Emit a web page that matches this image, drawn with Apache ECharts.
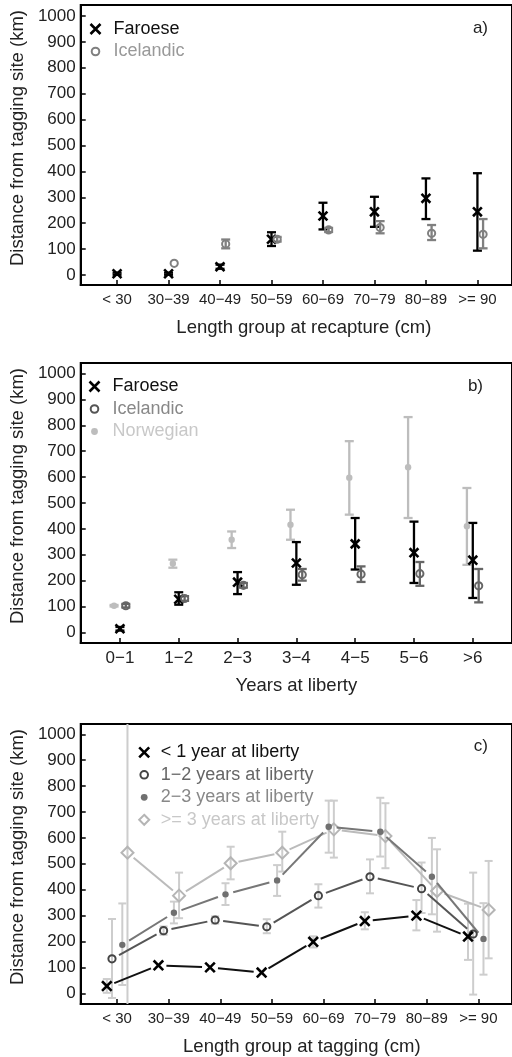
<!DOCTYPE html>
<html>
<head>
<meta charset="utf-8">
<script src="https://cdn.jsdelivr.net/npm/echarts@6/dist/echarts.min.js"></script>
<style>
  html, body { margin: 0; padding: 0; background: #fff; }
  #main { width: 512px; height: 1057px; }
</style>
</head>
<body>
<div id="main"></div>
<script>
const FONT = '"Liberation Sans", Arial, sans-serif';

// categories
const lengthGroups = ['< 30', '30\u221239', '40\u221249', '50\u221259', '60\u221269', '70\u221279', '80\u221289', '>= 90'];
const yearGroups = ['0\u22121', '1\u22122', '2\u22123', '3\u22124', '4\u22125', '5\u22126', '>6'];
const yTicks = [0, 100, 200, 300, 400, 500, 600, 700, 800, 900, 1000];

// a) length group at recapture
const faroeseRecap = [5, 5, 32, 138, 228, 244, 296, 244];
const faroeseRecapLo = [1, 1, 24, 112, 176, 186, 216, 94];
const faroeseRecapHi = [9, 9, 40, 165, 279, 302, 373, 393];
const icelandicRecap = [null, 45, 120, 138, 174, 183, 161, 157];
const icelandicRecapLo = [null, null, 103, 129, 166, 161, 135, 103];
const icelandicRecapHi = [null, null, 137, 147, 182, 208, 193, 216];

// b) years at liberty
const faroeseYears = [14, 128, 194, 268, 342, 308, 279];
const faroeseYearsLo = [7, 107, 148, 184, 243, 191, 133];
const faroeseYearsHi = [21, 155, 233, 349, 442, 428, 423];
const icelandicYears = [103, 131, 182, 223, 225, 227, 180];
const icelandicYearsLo = [96, 122, 173, 200, 195, 180, 116];
const icelandicYearsHi = [110, 140, 191, 245, 255, 272, 245];
const norwegianYears = [103, 266, 358, 416, 598, 638, 410];
const norwegianYearsLo = [100, 250, 326, 358, 455, 442, 261];
const norwegianYearsHi = [106, 281, 390, 474, 739, 832, 558];

// c) length group at tagging
const lt1Year = [28, 108, 100, 80, 199, 279, 300, 219];
const lt1YearLo = [2, null, null, null, 177, 247, 243, 129];
const lt1YearHi = [55, null, null, null, 220, 313, 360, 346];
const y1to2 = [133, 242, 283, 257, 377, 450, 404, 229];
const y1to2Lo = [-18, 226, 269, 232, 331, 386, 310, -5];
const y1to2Hi = [287, 258, 297, 286, 421, 517, 505, 466];
const y2to3 = [187, 311, 382, 436, 643, 624, 450, 210];
const y2to3Lo = [32, 270, 341, 376, 543, 528, 305, 72];
const y2to3Hi = [347, 354, 425, 495, 744, 755, 600, 348];
const ge3Years = [543, 377, 502, 543, 633, 607, 395, 322];
const ge3YearsLo = [-60, 290, 440, 470, 524, 483, 238, 135];
const ge3YearsHi = [1100, 466, 566, 624, 744, 734, 556, 511];

// legend icons (10x10 box)
const CROSS = 'path://M0.5,0.5L9.5,9.5M0.5,9.5L9.5,0.5';
const RING = 'path://M0,0M10,10M8.8,5A3.8,3.8,0,1,1,1.2,5A3.8,3.8,0,1,1,8.8,5Z';
const DOT = 'path://M0,0M10,10M8.4,5A3.4,3.4,0,1,1,1.6,5A3.4,3.4,0,1,1,8.4,5Z';
const DIAMOND = 'path://M5,0L10,5L5,10L0,5Z';

function marker(shape, c, color, size) {
  const x = c[0], y = c[1];
  if (shape === 'cross') {
    const r = size;
    const s = { stroke: color, lineWidth: 2.6 };
    return { type: 'group', children: [
      { type: 'line', shape: { x1: x - r, y1: y - r, x2: x + r, y2: y + r }, style: s },
      { type: 'line', shape: { x1: x - r, y1: y + r, x2: x + r, y2: y - r }, style: s }
    ] };
  }
  if (shape === 'circle') {
    return { type: 'circle', shape: { cx: x, cy: y, r: 3.6 }, style: { fill: 'none', stroke: color, lineWidth: 2 } };
  }
  if (shape === 'dot') {
    return { type: 'circle', shape: { cx: x, cy: y, r: 3.2 }, style: { fill: color } };
  }
  // diamond
  return { type: 'polygon', shape: { points: [[x, y - 6], [x + 6, y], [x, y + 6], [x - 6, y]] },
    style: { fill: 'none', stroke: color, lineWidth: 2 } };
}

// one group -> error bar series + marker(/line) series
function groupSeries(name, panel, vals, lo, hi, shift, st) {
  const pts = [];
  vals.forEach(function (v, i) {
    if (v == null) return;
    pts.push([i + 1 + shift, v, lo[i], hi[i]]);
  });
  const bars = {
    type: 'custom', name: name + ' (sd)', xAxisIndex: panel, yAxisIndex: panel,
    clip: true, silent: true, z: 2,
    data: pts.map(function (p) { return [p[0], p[1]]; }),
    encode: { x: 0, y: 1 },
    renderItem: function (params, api) {
      const p = pts[params.dataIndex];
      if (p[2] == null) return null;
      const top = api.coord([p[0], p[3]]);
      const bot = api.coord([p[0], p[2]]);
      const w = st.cap;
      const s = { stroke: st.barColor, lineWidth: st.barWidth };
      return { type: 'group', children: [
        { type: 'line', shape: { x1: top[0], y1: top[1], x2: bot[0], y2: bot[1] }, style: s },
        { type: 'line', shape: { x1: top[0] - w, y1: top[1], x2: top[0] + w, y2: top[1] }, style: s },
        { type: 'line', shape: { x1: bot[0] - w, y1: bot[1], x2: bot[0] + w, y2: bot[1] }, style: s }
      ] };
    }
  };
  const marks = {
    type: 'custom', name: name, xAxisIndex: panel, yAxisIndex: panel,
    clip: true, silent: true, z: 3,
    itemStyle: { color: st.color },
    data: pts.map(function (p) { return [p[0], p[1]]; }),
    encode: { x: 0, y: 1 },
    renderItem: function (params, api) {
      const i = params.dataIndex;
      const c = api.coord([pts[i][0], pts[i][1]]);
      const kids = [];
      if (st.line && i > 0) {
        const q = api.coord([pts[i - 1][0], pts[i - 1][1]]);
        const dx = c[0] - q[0], dy = c[1] - q[1];
        const len = Math.sqrt(dx * dx + dy * dy);
        const g = 8;
        if (len > 2 * g) {
          kids.push({ type: 'line',
            shape: { x1: q[0] + dx / len * g, y1: q[1] + dy / len * g, x2: c[0] - dx / len * g, y2: c[1] - dy / len * g },
            style: { stroke: st.line, lineWidth: 2 } });
        }
      }
      kids.push(marker(st.shape, c, st.color, st.size || 4.4));
      return { type: 'group', children: kids };
    }
  };
  return [bars, marks];
}

function xAxisFor(gi, labels, min, max, name, fontSize, namePad) {
  const vals = labels.map(function (_, i) { return i + 1; });
  return {
    type: 'value', gridIndex: gi, min: min, max: max,
    name: name, nameLocation: 'middle', nameGap: 33,
    nameTextStyle: { fontSize: 18.5, color: '#222', fontFamily: FONT, padding: [0, 0, 0, namePad] },
    axisLine: { show: true, onZero: false, lineStyle: { color: '#000', width: 2 } },
    axisTick: { show: true, inside: true, length: 5, customValues: vals, lineStyle: { color: '#000', width: 1.5 } },
    axisLabel: { customValues: vals, fontSize: fontSize, color: '#222', fontFamily: FONT, margin: 7,
      formatter: function (v) { return labels[Math.round(v) - 1]; } },
    splitLine: { show: false }
  };
}

function yAxisFor(gi, min, max) {
  return {
    type: 'value', gridIndex: gi, min: min, max: max,
    name: 'Distance from tagging site (km)', nameLocation: 'middle', nameGap: 53,
    nameTextStyle: { fontSize: 18.5, color: '#222', fontFamily: FONT, padding: [0, 0, 0, 14] },
    axisLine: { show: true, onZero: false, lineStyle: { color: '#000', width: 2 } },
    axisTick: { show: true, inside: true, length: 5, customValues: yTicks, lineStyle: { color: '#000', width: 1.5 } },
    axisLabel: { customValues: yTicks, fontSize: 17, color: '#222', fontFamily: FONT, margin: 5,
      formatter: function (v) { return String(v); } },
    splitLine: { show: false }
  };
}

function legendFor(left, top, items, textPad) {
  return {
    orient: 'vertical', left: left, top: top, padding: 0,
    itemWidth: 10, itemHeight: 10, itemGap: 4.5, selectedMode: false,
    textStyle: { fontSize: 18, fontFamily: FONT, padding: [0, 0, 0, textPad] },
    data: items
  };
}

function crossItem(name, textColor) {
  return { name: name, icon: CROSS, itemStyle: { color: 'none', borderColor: '#000', borderWidth: 2.6 }, textStyle: { color: textColor } };
}
function ringItem(name, color, textColor) {
  return { name: name, icon: RING, itemStyle: { color: 'none', borderColor: color, borderWidth: 2 }, textStyle: { color: textColor } };
}
function dotItem(name, color, textColor) {
  return { name: name, icon: DOT, itemStyle: { color: color, borderWidth: 0 }, textStyle: { color: textColor } };
}

const gridStyle = { show: true, borderColor: '#000', borderWidth: 2, backgroundColor: 'transparent' };

let series = [];
// a)
series = series.concat(groupSeries('Faroese', 0, faroeseRecap, faroeseRecapLo, faroeseRecapHi, 0,
  { color: '#000', barColor: '#000', barWidth: 2.3, cap: 4.5, shape: 'cross' }));
series = series.concat(groupSeries('Icelandic', 0, icelandicRecap, icelandicRecapLo, icelandicRecapHi, 0.11,
  { color: '#808080', barColor: '#808080', barWidth: 2.3, cap: 4.5, shape: 'circle' }));
// b)
series = series.concat(groupSeries('Norwegian', 1, norwegianYears, norwegianYearsLo, norwegianYearsHi, -0.1,
  { color: '#bdbdbd', barColor: '#bdbdbd', barWidth: 2.3, cap: 4.5, shape: 'dot' }));
series = series.concat(groupSeries('Faroese', 1, faroeseYears, faroeseYearsLo, faroeseYearsHi, 0,
  { color: '#000', barColor: '#000', barWidth: 2.3, cap: 4.5, shape: 'cross' }));
series = series.concat(groupSeries('Icelandic', 1, icelandicYears, icelandicYearsLo, icelandicYearsHi, 0.1,
  { color: '#666', barColor: '#666', barWidth: 2.3, cap: 4.5, shape: 'circle' }));
// c)
const barC = '#cdcdcd';
series = series.concat(groupSeries('>= 3 years at liberty', 2, ge3Years, ge3YearsLo, ge3YearsHi, 0.2,
  { color: '#b5b5b5', line: '#bbbbbb', barColor: barC, barWidth: 2, cap: 4, shape: 'diamond' }));
series = series.concat(groupSeries('2\u22123 years at liberty', 2, y2to3, y2to3Lo, y2to3Hi, 0.1,
  { color: '#707070', line: '#777777', barColor: barC, barWidth: 2, cap: 4, shape: 'dot' }));
series = series.concat(groupSeries('1\u22122 years at liberty', 2, y1to2, y1to2Lo, y1to2Hi, -0.1,
  { color: '#444', line: '#555', barColor: barC, barWidth: 2, cap: 4, shape: 'circle' }));
series = series.concat(groupSeries('< 1 year at liberty', 2, lt1Year, lt1YearLo, lt1YearHi, -0.2,
  { color: '#000', line: '#111', barColor: barC, barWidth: 2, cap: 4, shape: 'cross', size: 4.8 }));

const titleStyle = { fontSize: 17, fontWeight: 'normal', color: '#222', fontFamily: FONT };

const option = {
  animation: false,
  backgroundColor: '#fff',
  textStyle: { fontFamily: FONT },
  title: [
    { text: 'a)', right: 24, top: 20, padding: 0, textStyle: titleStyle },
    { text: 'b)', right: 29, top: 378, padding: 0, textStyle: titleStyle },
    { text: 'c)', right: 24, top: 738, padding: 0, textStyle: titleStyle }
  ],
  grid: [
    Object.assign({ left: 76, right: -3, top: 5, height: 280 }, gridStyle),
    Object.assign({ left: 75, right: -3, top: 363, height: 280 }, gridStyle),
    Object.assign({ left: 77, right: -3, top: 724, height: 280 }, gridStyle)
  ],
  xAxis: [
    xAxisFor(0, lengthGroups, 0.2939, 8.6718, 'Length group at recapture (cm)', 15, 15),
    xAxisFor(1, yearGroups, 0.3333, 7.6667, 'Years at liberty', 17, 0),
    xAxisFor(2, lengthGroups, 0.2939, 8.6527, 'Length group at tagging (cm)', 15, 11)
  ],
  yAxis: [
    yAxisFor(0, -38.6, 1042.5),
    yAxisFor(1, -41, 1041),
    yAxisFor(2, -41.3, 1039.8)
  ],
  legend: [
    legendFor(88, 20, [
      crossItem('Faroese', '#111'),
      ringItem('Icelandic', '#808080', '#999')
    ], 8),
    legendFor(87, 377.5, [
      crossItem('Faroese', '#111'),
      ringItem('Icelandic', '#555', '#888'),
      dotItem('Norwegian', '#bdbdbd', '#c8c8c8')
    ], 8),
    legendFor(136.7, 743.3, [
      crossItem('< 1 year at liberty', '#111'),
      ringItem('1\u22122 years at liberty', '#444', '#666'),
      dotItem('2\u22123 years at liberty', '#707070', '#888'),
      { name: '>= 3 years at liberty', icon: DIAMOND, itemStyle: { color: 'none', borderColor: '#b5b5b5', borderWidth: 2 }, textStyle: { color: '#c8c8c8' } }
    ], 6.6)
  ],
  series: series
};

const chart = echarts.init(document.getElementById('main'));
chart.setOption(option);
window.addEventListener('resize', function () { chart.resize(); });
</script>
</body>
</html>
